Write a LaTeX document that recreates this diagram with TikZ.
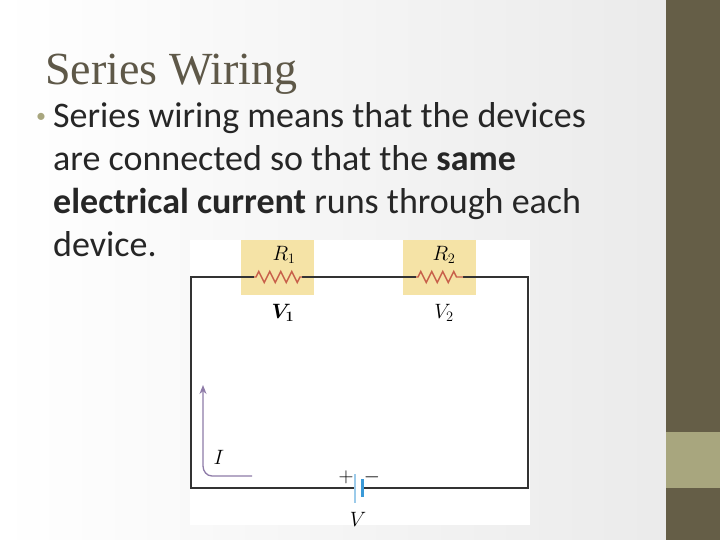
\documentclass[tikz,border=0pt]{standalone}
\usepackage{fontspec}
\setmainfont{Carlito}
\newfontfamily\titlefont{Liberation Serif}
\usetikzlibrary{decorations.pathmorphing,arrows.meta}
\definecolor{bardark}{HTML}{655E47}
\definecolor{barlight}{HTML}{A8A67E}
\definecolor{titlec}{HTML}{5E5848}
\definecolor{resbox}{HTML}{F5E3A6}
\definecolor{resline}{HTML}{C8604A}
\definecolor{arrc}{HTML}{8E7BA8}
\definecolor{batc}{HTML}{3A9AD8}
\definecolor{batl}{HTML}{9CCBEA}
\newsavebox{\vonebox}
\tikzset{wire/.style={line width=1.6pt,black!80},
 zig/.style={resline,line width=1.4pt,decorate,decoration={zigzag,segment length=11pt,amplitude=5.5pt,pre length=2pt,post length=2pt}},
 lab/.style={font=\fontsize{20}{20}\selectfont}}
\begin{document}
\sbox{\vonebox}{\fontsize{20}{20}\selectfont\boldmath$V_1$}
\begin{tikzpicture}[x=1pt,y=-1pt]
\useasboundingbox (0,0) rectangle (720,540);
\shade[left color=white,right color=black!8] (0,0) rectangle (666,540);
\fill[bardark] (666,0) rectangle (720,540);
\fill[barlight] (666,432) rectangle (720,488);
\node[anchor=base west,inner sep=0,text=titlec,font=\titlefont\fontsize{46}{46}\selectfont] (title) at (45,85) {Series Wiring};
\node[anchor=base west,inner sep=0,text=barlight,font=\fontsize{20}{20}\selectfont] (bul) at (36,123) {•};
\node[anchor=base west,inner sep=0,align=left,font=\fontsize{36}{43}\selectfont,text=black!85] (body) at (53,256)
{Series wiring means that the devices\\ are connected so that the \textbf{same}\\ \textbf{electrical current} runs through each\\ device.};
\fill[white] (190,240) rectangle (530,525);
\fill[resbox] (241,240) rectangle (314,295);
\fill[resbox] (403,240) rectangle (476,295);
\coordinate (tl) at (191,277); \coordinate (tr) at (528,277);
\coordinate (bl) at (191,488); \coordinate (br) at (528,488);
\coordinate (r1a) at (254,277); \coordinate (r1b) at (302,277);
\coordinate (r2a) at (416,277); \coordinate (r2b) at (463,277);
\coordinate (ba) at (355,488); \coordinate (bb) at (362,488);
\draw[wire] (r1a) -- (tl) -- (bl) -- (ba);
\draw[wire] (r1b) -- (r2a);
\draw[wire] (r2b) -- (tr) -- (br) -- (bb);
\draw[zig] (r1a) -- (r1b);
\draw[zig] (r2a) -- (r2b);
\draw[batl,line width=1.3pt] (355,474) -- (355,503);
\draw[batc,line width=3pt] (362,479) -- (362,497);
\coordinate (ia) at (252,476); \coordinate (ib) at (203,385);
\draw[arrc,line width=1.3pt,-{Stealth[length=9pt,width=7pt]}] (ia) -- (212,476) to[out=180,in=-90] (203,466) -- (ib);
\node[lab] (R1) at (284,255) {$R_1$};
\node[lab] (V1) at (283,313) {\usebox{\vonebox}};
\node[lab] (R2) at (444,255) {$R_2$};
\node[lab] (V2) at (444,313) {$V_2$};
\node[lab] (I) at (219,457) {$I$};
\node[lab] (p) at (346,477) {$+$};
\node[lab] (m) at (372,477) {$-$};
\node[lab] (V) at (358,519) {$V$};
\end{tikzpicture}
\end{document}
